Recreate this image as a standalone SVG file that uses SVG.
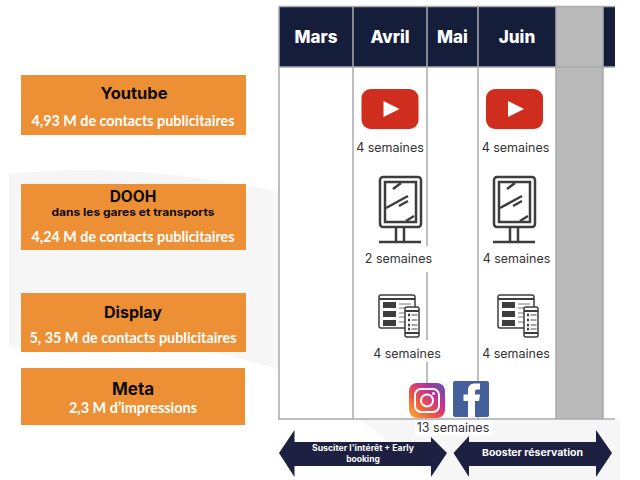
<svg xmlns="http://www.w3.org/2000/svg" width="640" height="480" viewBox="0 0 640 480">
<defs>
<style>
.box{fill:#ec8f35}
.t{font-family:"Inter","Liberation Sans",sans-serif;font-weight:700;fill:#0c0a08;text-anchor:middle}
.w{font-family:"Lato","Liberation Sans",sans-serif;font-weight:700;fill:#fff;text-anchor:middle;font-size:14.5px}
.m{font-family:"Inter","Liberation Sans",sans-serif;font-weight:800;fill:#fff;text-anchor:middle;font-size:17px}
.s{font-family:"Inter","Liberation Sans",sans-serif;font-weight:400;fill:#333;text-anchor:middle;font-size:12.5px}
.a{font-family:"Inter","Liberation Sans",sans-serif;font-weight:700;fill:#fff;text-anchor:middle}
.g{stroke:#a9abae;stroke-width:1.5;fill:none}
.ic{fill:none;stroke:#3d3d3d;stroke-width:2.5}
.d{fill:#3d3d3d}
</style>
<linearGradient id="ig" x1="0" y1="1" x2="1" y2="0">
<stop offset="0" stop-color="#f9b233"/><stop offset="0.35" stop-color="#ee5a3c"/><stop offset="0.65" stop-color="#c7308f"/><stop offset="1" stop-color="#5a55b5"/>
</linearGradient>
<g id="yt"><rect x="0" y="0" width="57" height="40" rx="9" fill="#cf2d1e"/><path d="M22 12 L38 20 L22 28Z" fill="#fff"/></g>
<g id="dooh">
<rect x="1" y="1" width="41" height="50" rx="3" class="ic"/><rect x="6" y="6" width="31" height="40" class="ic" stroke-width="2"/>
<path d="M14 13 L22 7 M7 32 L29 20 M20 30 L29 25 M27 45 L35 40 M17 52 V65 M25 52 V65" class="ic"/>
<path d="M0 66 H42" class="ic"/>
</g>
<g id="disp">
<rect x="1" y="1" width="36" height="33" rx="2" fill="none" stroke="#3d3d3d" stroke-width="1.5"/><path d="M1 5 H37" fill="none" stroke="#3d3d3d" stroke-width="2"/>
<rect x="5" y="8" width="13" height="6" class="d"/><rect x="5" y="17" width="13" height="6" class="d"/><rect x="5" y="26" width="13" height="6" class="d"/>
<path d="M21 10 H33 M21 14 H30 M21 19 H28 M21 23 H28 M21 28 H28" stroke="#777" stroke-width="1"/>
<rect x="27" y="13" width="14" height="30" rx="2" fill="#fff" stroke="#3d3d3d" stroke-width="1.5"/>
<path d="M27 17 H41 M27 39 H41" stroke="#3d3d3d" stroke-width="2"/>
<path d="M30 21 h2 M30 26 h2 M30 31 h2 M30 35 h2" stroke="#3d3d3d" stroke-width="2.5"/>
<path d="M33.500 21 h6 M33.500 26 h6 M33.500 31 h6 M33.500 35 h6" stroke="#888" stroke-width="1.500"/>
</g>
</defs>
<rect width="640" height="480" fill="#fff"/>
<path id="bg" d="M9 174 C90 165 190 172 279 192 V370 C190 340 90 335 9 348Z" fill="#f6f6f7"/>
<path d="M360 420 H620 V480 H440Z" fill="#f6f6f7"/>

<g id="grid">
<rect x="556" y="67" width="47" height="352" fill="#bababa"/>
<rect x="279" y="7" width="336" height="60" fill="#141d3a"/>
<rect x="556" y="7" width="47" height="60" fill="#bababa"/>
<path class="g" d="M279 6.500 H615 M279 67 H615 M279 6 V419 M353 6 V419 M478 6 V419 M556 6 V419 M603 6 V419 M278 419 H615"/>
<path class="g" d="M427 6 V246 M427 272 V340 M427 362 V419"/>
<text class="m" x="316" y="43">Mars</text>
<text class="m" x="390" y="43">Avril</text>
<text class="m" x="452.500" y="43" font-size="15">Mai</text>
<text class="m" x="517" y="43">Juin</text>
</g>

<g id="youtube">
<rect class="box" x="21" y="75" width="225" height="60"/>
<text class="t" x="134" y="99" font-size="16.500">Youtube</text>
<text class="w" x="133" y="126" textLength="203" lengthAdjust="spacingAndGlyphs">4,93 M de contacts publicitaires</text>
</g>
<g id="dooh-node">
<rect class="box" x="21" y="184" width="225" height="66"/>
<text class="t" x="133" y="202" font-size="15.500">DOOH</text>
<text class="t" x="133" y="216" font-size="10.500" textLength="163" lengthAdjust="spacingAndGlyphs">dans les gares et transports</text>
<text class="w" x="133" y="242" textLength="203" lengthAdjust="spacingAndGlyphs">4,24 M de contacts publicitaires</text>
</g>
<g id="display">
<rect class="box" x="21" y="293" width="225" height="59"/>
<text class="t" x="133" y="318" font-size="16">Display</text>
<text class="w" x="133" y="343" textLength="207" lengthAdjust="spacingAndGlyphs">5, 35 M de contacts publicitaires</text>
</g>
<g id="meta">
<rect class="box" x="21" y="368" width="224" height="57"/>
<text class="t" x="133" y="395" font-size="17">Meta</text>
<text class="w" x="133" y="413" textLength="128" lengthAdjust="spacingAndGlyphs">2,3 M d’impressions</text>
</g>

<g id="avril-youtube"><use href="#yt" x="361.500" y="89"/><text class="s" x="390" y="152">4 semaines</text></g>
<g id="juin-youtube"><use href="#yt" x="486" y="89"/><text class="s" x="515.500" y="152">4 semaines</text></g>
<g id="avril-dooh"><use href="#dooh" x="379" y="176"/><text class="s" x="398.500" y="263">2 semaines</text></g>
<g id="juin-dooh"><use href="#dooh" x="493" y="176"/><text class="s" x="516.500" y="263">4 semaines</text></g>
<g id="avril-display"><use href="#disp" x="378" y="294"/><text class="s" x="407" y="358">4 semaines</text></g>
<g id="juin-display"><use href="#disp" x="497" y="294"/><text class="s" x="516" y="358">4 semaines</text></g>

<g id="instagram">
<rect x="409" y="383" width="36" height="35" rx="8" fill="url(#ig)"/>
<rect x="415" y="389" width="24" height="23" rx="6" fill="none" stroke="#fff" stroke-width="2"/>
<circle cx="427" cy="400.500" r="6" fill="none" stroke="#fff" stroke-width="2"/>
<circle cx="433.500" cy="393.500" r="1.500" fill="#fff"/>
</g>
<g id="facebook">
<rect x="453" y="381" width="36" height="36" rx="2" fill="#43609c"/>
<path d="M468 417 V401 H463.500 V394.500 H468 V390 C468 385.500 471 383.500 475 383.500 H480 V389.500 H477 C475.500 389.500 475 390.500 475 392 V394.500 H480 L479 401 H475 V417Z" fill="#fff"/>
</g>
<rect x="415" y="420" width="78" height="15" fill="#fff"/>
<text id="meta-duration" class="s" x="453" y="432" font-size="13">13 semaines</text>

<g id="connectors">
<path id="arrow-left" fill="#1d2040" d="M279 453 L294.500 430 V442 H431 V437 L447 453 L431 477 V466 H294.500 V477Z"/>
<path id="arrow-right" fill="#1d2040" d="M453.500 453 L469 436 V442 H596 V430 L612 453 L596 477 V466 H469 V477Z"/>
</g>
<text class="a" x="363" y="451" font-size="8.500" textLength="102" lengthAdjust="spacingAndGlyphs">Susciter l'intérêt + Early</text>
<text class="a" x="363" y="462" font-size="8.500">booking</text>
<text class="a" x="532.500" y="456" font-size="9.500" textLength="101" lengthAdjust="spacingAndGlyphs">Booster réservation</text>
</svg>
